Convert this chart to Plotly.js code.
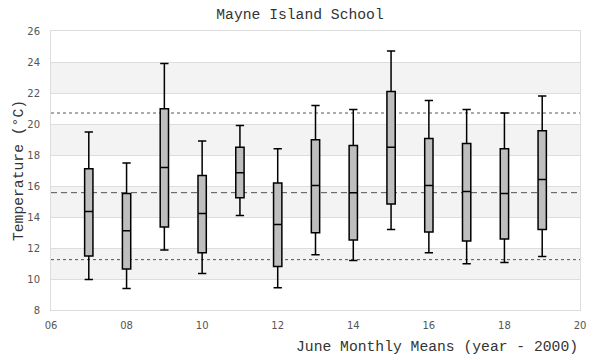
<!DOCTYPE html>
<html>
<head>
<meta charset="utf-8">
<script src="https://cdn.plot.ly/plotly-3.0.1.min.js"></script>
<style>html,body{margin:0;padding:0;background:#fff;}#chart{width:600px;height:360px;}</style>
</head>
<body>
<div id="chart"></div>
<script>
// Data: June monthly means, year - 2000
const years = [7, 8, 9, 10, 11, 12, 13, 14, 15, 16, 17, 18, 19];
const lowerWhisker = [9.96, 9.38, 11.87, 10.35, 14.09, 9.44, 11.57, 11.19, 13.19, 11.70, 10.99, 11.06, 11.45];
const q1Values     = [11.48, 10.65, 13.35, 11.70, 15.25, 10.80, 12.99, 12.52, 14.84, 13.03, 12.45, 12.58, 13.19];
const medianValues = [14.35, 13.12, 17.19, 14.22, 16.86, 13.51, 16.03, 15.57, 18.50, 16.03, 15.64, 15.51, 16.42];
const q3Values     = [17.12, 15.51, 20.99, 16.67, 18.50, 16.19, 18.99, 18.61, 22.09, 19.06, 18.74, 18.41, 19.57];
const upperWhisker = [19.48, 17.48, 23.90, 18.90, 19.90, 18.41, 21.19, 20.93, 24.71, 21.51, 20.93, 20.71, 21.81];
const meanLine = 15.57;
const upperRef = 20.71;
const lowerRef = 11.25;
const xTickVals = [6, 8, 10, 12, 14, 16, 18, 20];
const xTickText = ["06", "08", "10", "12", "14", "16", "18", "20"];
const yTickVals = [8, 10, 12, 14, 16, 18, 20, 22, 24, 26];
const bandRanges = [[10, 12], [14, 16], [18, 20], [22, 24]];

const mono = "Liberation Mono, DejaVu Sans Mono, monospace";
const sans = "DejaVu Sans, Verdana, sans-serif";

const trace = {
  type: 'box',
  x: years,
  lowerfence: lowerWhisker,
  q1: q1Values,
  median: medianValues,
  q3: q3Values,
  upperfence: upperWhisker,
  width: 0.22,
  whiskerwidth: 1,
  boxpoints: false,
  fillcolor: '#bebebe',
  line: {color: '#000', width: 1.5},
  hoverinfo: 'skip',
  showlegend: false
};

const shapes = bandRanges.map(r => ({
  type: 'rect', xref: 'paper', yref: 'y', x0: 0, x1: 1, y0: r[0], y1: r[1],
  fillcolor: '#f3f3f3', line: {width: 0}, layer: 'below'
}));
shapes.push({type: 'line', xref: 'paper', yref: 'y', x0: 0, x1: 1, y0: upperRef, y1: upperRef,
  line: {color: '#555', width: 1, dash: 'dot'}, layer: 'between'});
shapes.push({type: 'line', xref: 'paper', yref: 'y', x0: 0, x1: 1, y0: lowerRef, y1: lowerRef,
  line: {color: '#555', width: 1, dash: 'dot'}, layer: 'between'});
shapes.push({type: 'line', xref: 'paper', yref: 'y', x0: 0, x1: 1, y0: meanLine, y1: meanLine,
  line: {color: '#555', width: 1, dash: '6px,4px'}, layer: 'between'});

const layout = {
  width: 600, height: 360,
  margin: {l: 51, r: 20, t: 31, b: 50},
  paper_bgcolor: '#fff', plot_bgcolor: '#fff',
  title: {text: 'Mayne Island School', font: {family: mono, size: 14.7, color: '#333'},
    x: 0.5, xref: 'container', y: 1 - 14/360, yref: 'container', yanchor: 'middle'},
  xaxis: {
    range: [6, 20], tickvals: xTickVals, ticktext: xTickText,
    showgrid: false, zeroline: false, ticks: '',
    showline: true, mirror: true, linecolor: '#ddd', linewidth: 1,
    tickfont: {family: sans, size: 10, color: '#555'}, ticklabelstandoff: 6
  },
  yaxis: {
    range: [8, 26], tickvals: yTickVals,
    showgrid: true, gridcolor: '#ddd', gridwidth: 1, zeroline: false, ticks: '',
    showline: true, mirror: true, linecolor: '#ddd', linewidth: 1,
    tickfont: {family: sans, size: 10, color: '#555'}, ticklabelstandoff: 8,
    title: {text: 'Temperature (°C)', font: {family: mono, size: 14.7, color: '#333'}, standoff: 0}
  },
  shapes: shapes,
  annotations: [{
    text: 'June Monthly Means (year - 2000)', xref: 'paper', yref: 'paper',
    x: 1, xanchor: 'right', y: -0.1325, yanchor: 'middle', showarrow: false,
    font: {family: mono, size: 14.7, color: '#333'}
  }]
};

Plotly.newPlot('chart', [trace], layout, {displayModeBar: false, staticPlot: true});
</script>
</body>
</html>
